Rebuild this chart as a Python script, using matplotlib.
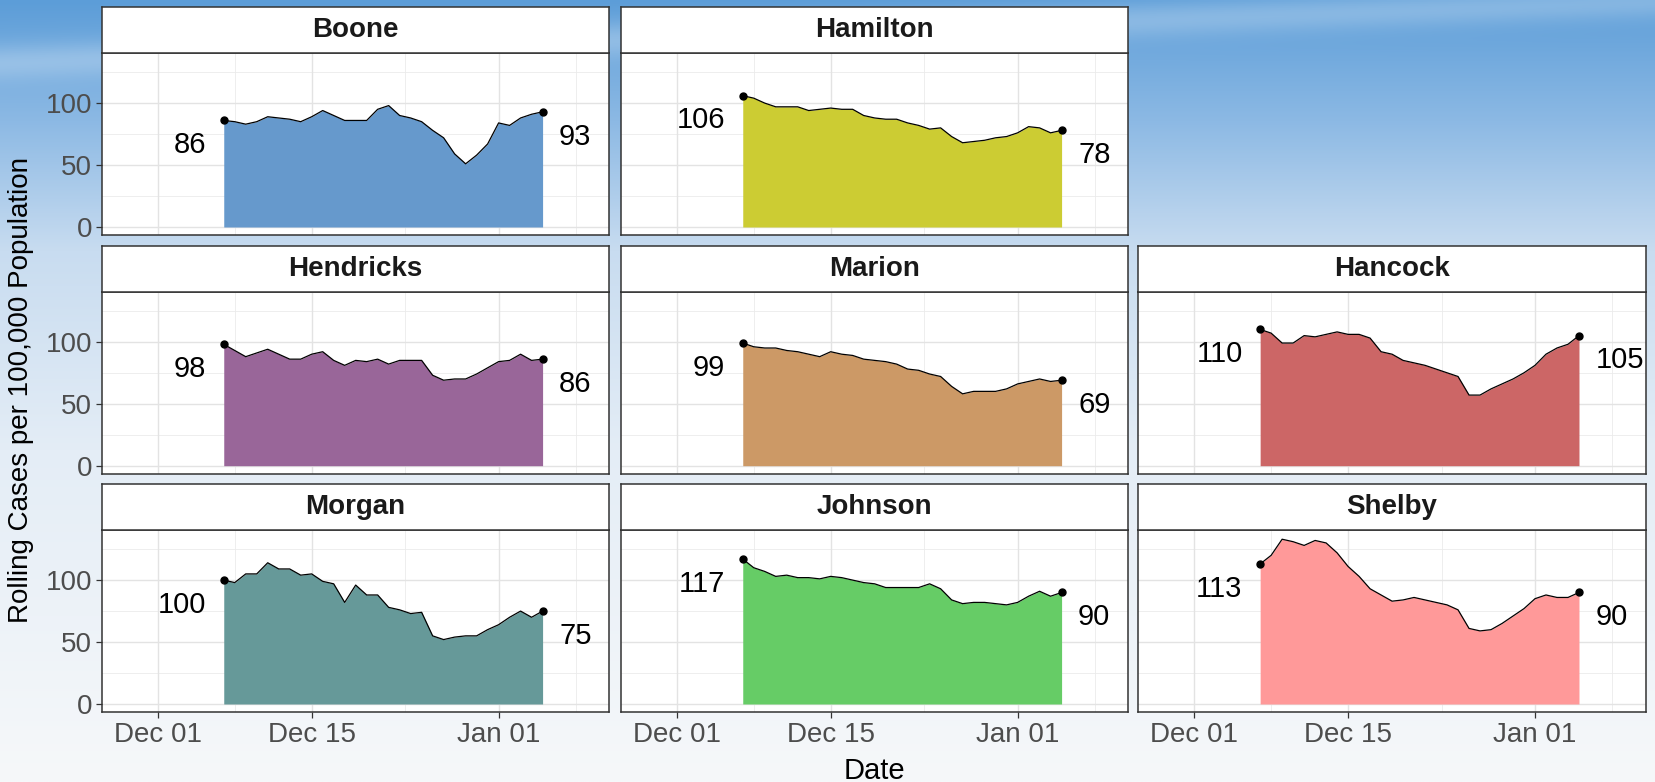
import numpy as np
import pandas as pd
import matplotlib
matplotlib.use("Agg")
import matplotlib.pyplot as plt
import matplotlib.dates as mdates

plt.rcParams['font.family'] = ['Liberation Sans', 'DejaVu Sans']

# ---------------- data ----------------
dates = pd.date_range("2020-12-07", "2021-01-05", freq="D")

counties = ["Boone", "Hamilton", "Hendricks", "Marion", "Hancock",
            "Morgan", "Johnson", "Shelby"]

boone = [86, 85, 83, 85, 89, 88, 87, 85, 89, 94, 90, 86, 86, 86, 95,
         98, 90, 88, 85, 78, 72, 59, 51, 58, 67, 84, 82, 88, 91, 93]
hamilton = [106, 104, 100, 97, 97, 97, 94, 95, 96, 95, 95, 90, 88, 87, 87,
            84, 82, 79, 80, 73, 68, 69, 70, 72, 73, 76, 81, 80, 76, 78]
hendricks = [98, 93, 88, 91, 94, 90, 86, 86, 90, 92, 85, 81, 85, 84, 86,
             82, 85, 85, 85, 73, 69, 70, 70, 74, 79, 84, 85, 90, 85, 86]
marion = [99, 96, 95, 95, 93, 92, 90, 88, 92, 90, 89, 86, 85, 84, 82,
          78, 77, 74, 72, 64, 58, 60, 60, 60, 62, 66, 68, 70, 68, 69]
hancock = [110, 107, 99, 99, 105, 104, 106, 108, 106, 106, 103, 92, 90, 85, 83,
           81, 78, 75, 72, 57, 57, 62, 66, 70, 75, 81, 90, 95, 98, 105]
morgan = [100, 98, 105, 105, 114, 109, 109, 104, 105, 99, 97, 82, 96, 88, 88,
          78, 76, 73, 74, 55, 52, 54, 55, 55, 60, 64, 70, 75, 70, 75]
johnson = [117, 110, 107, 103, 104, 102, 102, 101, 103, 102, 100, 98, 97, 94, 94,
           94, 94, 97, 93, 84, 81, 82, 82, 81, 80, 82, 87, 91, 87, 90]
shelby = [113, 120, 133, 131, 128, 132, 130, 122, 111, 103, 93, 88, 83, 84, 86,
          84, 82, 80, 76, 61, 59, 60, 65, 71, 77, 85, 88, 86, 86, 90]

series = [boone, hamilton, hendricks, marion, hancock, morgan, johnson, shelby]
colors = ["#6699cc", "#cccc33", "#996699", "#cc9966", "#cc6666",
          "#669999", "#66cc66", "#ff9999"]
grid_pos = [(0, 0), (0, 1), (1, 0), (1, 1), (1, 2), (2, 0), (2, 1), (2, 2)]

x_major = pd.to_datetime(["2020-12-01", "2020-12-15", "2021-01-01"])
y_major = [0, 50, 100]
y_minor = [25, 75, 125]

# ---------------- layout ----------------
W, H = 1655, 782
fig = plt.figure(figsize=(W / 100, H / 100), dpi=100)

# background sky gradient
ys = np.linspace(0, H, 400)
xs = np.linspace(0, W, 400)
keys_y = [0, 120, 250, 450, 782]
keys_c = np.array([[92, 157, 216], [140, 185, 228], [200, 220, 240],
                   [228, 237, 246], [246, 248, 250]]) / 255.0
grad = np.zeros((len(ys), len(xs), 3))
for c in range(3):
    col = np.interp(ys, keys_y, keys_c[:, c])
    grad[:, :, c] = col[:, None]
XX, YY = np.meshgrid(xs, ys)
line_y = 62 - XX * (62 / 1655.0)
streak = np.exp(-((YY - line_y) / 18.0) ** 2) * 0.25
grad = grad + (1 - grad) * streak[:, :, None]
grad = np.clip(grad, 0, 1)
bg = fig.add_axes([0, 0, 1, 1], zorder=-10)
bg.imshow(grad, aspect="auto", extent=[0, 1, 0, 1], origin="upper")
bg.axis("off")

col_left = [101.6, 620.6, 1138.0]
row_top = [7.3, 246.0, 484.3]
pw, sh, ph = 507.5, 46.0, 182.0

x0 = mdates.date2num(pd.Timestamp("2020-12-01")) - 5.11
x1 = mdates.date2num(pd.Timestamp("2021-01-01")) + 10.05
x_minor = [mdates.date2num(pd.Timestamp("2020-12-08")),
           mdates.date2num(pd.Timestamp("2020-12-23")) + 0.5,
           mdates.date2num(pd.Timestamp("2021-01-08"))]
xd = mdates.date2num(dates)

border = "#333333"
for name, vals, colr, (r, c) in zip(counties, series, colors, grid_pos):
    l = col_left[c]
    st = row_top[r]
    ax = fig.add_axes([l / W, 1 - (st + sh + ph) / H, pw / W, ph / H])
    sa = fig.add_axes([l / W, 1 - (st + sh) / H, pw / W, sh / H])

    sa.set_facecolor("white")
    sa.set_xticks([]); sa.set_yticks([])
    for s in sa.spines.values():
        s.set_color(border); s.set_linewidth(1.1)
    sa.text(0.5, 0.5, name, ha="center", va="center", fontsize=20,
            fontweight="bold", color="#1a1a1a", transform=sa.transAxes)

    ax.set_facecolor("white")
    ax.set_xlim(x0, x1)
    ax.set_ylim(-6.7, 140.2)
    for v in y_minor:
        ax.axhline(v, color="#ebebeb", lw=0.6, zorder=0)
    for v in x_minor:
        ax.axvline(v, color="#ebebeb", lw=0.6, zorder=0)
    for v in y_major:
        ax.axhline(v, color="#e3e3e3", lw=1.0, zorder=0)
    for v in x_major:
        ax.axvline(mdates.date2num(v), color="#e3e3e3", lw=1.0, zorder=0)

    v = np.array(vals, dtype=float)
    ax.fill_between(xd, 0, v, color=colr, lw=0, zorder=2)
    ax.plot(xd, v, color="black", lw=0.9, zorder=3)
    ax.plot([xd[0], xd[-1]], [v[0], v[-1]], "o", color="black",
            ms=5, zorder=4)
    ax.text(xd[0] - 1.6, v[0] - 20, f"{int(v[0])}", ha="right",
            va="center", fontsize=21, color="black", clip_on=True, zorder=5)
    ax.text(xd[-1] + 1.5, v[-1] - 20, f"{int(v[-1])}", ha="left",
            va="center", fontsize=21, color="black", clip_on=True, zorder=5)

    for s in ax.spines.values():
        s.set_color(border); s.set_linewidth(1.1)

    ax.set_yticks(y_major)
    ax.set_xticks(mdates.date2num(x_major))
    ax.xaxis.set_major_formatter(mdates.DateFormatter("%b %d"))
    ax.tick_params(axis="both", colors=border, length=4, width=0.9,
                   labelsize=20, labelcolor="#4d4d4d", pad=3)
    if c != 0:
        ax.tick_params(axis="y", left=False, labelleft=False)
    if r != 2:
        ax.tick_params(axis="x", bottom=False, labelbottom=False)

fig.text(21 / W, 1 - 390 / H, "Rolling Cases per 100,000 Population",
         rotation=90, ha="center", va="center", fontsize=20, color="black")
fig.text(874 / W, 1 - 771 / H, "Date", ha="center", va="center",
         fontsize=21, color="black")

fig.savefig("out.png", dpi=100)
